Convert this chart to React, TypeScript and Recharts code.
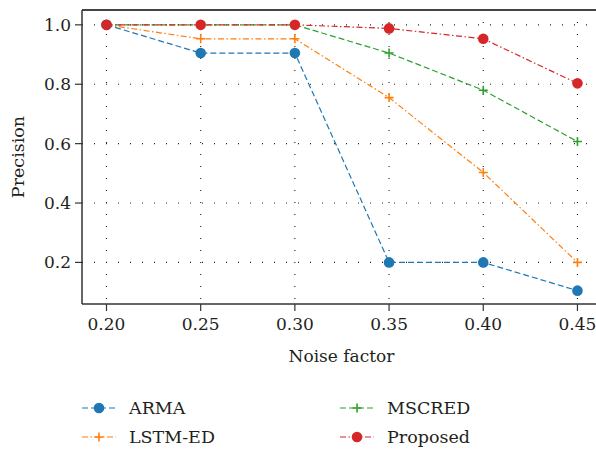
import React from 'react';
import { LineChart, Line, XAxis, YAxis, CartesianGrid, ReferenceLine } from 'recharts';

const noiseFactors = [0.2, 0.25, 0.3, 0.35, 0.4, 0.45];
const armaValues = [1.0, 0.905, 0.905, 0.2, 0.2, 0.105];
const lstmEdValues = [1.0, 0.953, 0.953, 0.755, 0.503, 0.2];
const mscredValues = [1.0, 1.0, 1.0, 0.905, 0.78, 0.607];
const proposedValues = [1.0, 1.0, 1.0, 0.988, 0.953, 0.803];
const xTicks = [0.2, 0.25, 0.3, 0.35, 0.4, 0.45];
const yTicks = [0.2, 0.4, 0.6, 0.8, 1.0];

const FONT = '"DejaVu Serif", serif';
const AXIS = '#333';
const TEXT = '#231f20';
const DASHED = '6 3';
const DASH_DOT = '6 2.5 1.5 2.5';

const series = [
  { key: 'arma', name: 'ARMA', values: armaValues, color: '#1f77b4', dash: DASHED, marker: 'circle' },
  { key: 'lstm', name: 'LSTM-ED', values: lstmEdValues, color: '#ff7f0e', dash: DASH_DOT, marker: 'plus' },
  { key: 'mscred', name: 'MSCRED', values: mscredValues, color: '#2ca02c', dash: DASHED, marker: 'plus' },
  { key: 'proposed', name: 'Proposed', values: proposedValues, color: '#d62728', dash: DASH_DOT, marker: 'circle' },
];

const data = noiseFactors.map((x, i) => {
  const row: any = { x };
  series.forEach((s) => { row[s.key] = s.values[i]; });
  return row;
});

const makeDot = (marker: string, color: string) => (props: any) => {
  const { cx, cy, index } = props;
  if (cx == null || cy == null) return null;
  if (marker === 'circle') {
    return <circle key={index} cx={cx} cy={cy} r={5.3} fill={color} stroke="none" />;
  }
  return (
    <path key={index} d={`M${cx - 4.5},${cy}H${cx + 4.5}M${cx},${cy - 4.5}V${cy + 4.5}`}
      stroke={color} strokeWidth={1.6} fill="none" />
  );
};

// legend placement
const legendSlots = [
  { left: 82, top: 408 },
  { left: 82, top: 437 },
  { left: 340, top: 408 },
  { left: 340, top: 437 },
];

const LegendHandle = ({ s }: any) => (
  <svg width={36} height={20} style={{ position: 'absolute', left: 0, top: -10, overflow: 'visible' }}>
    <line x1={0} y1={10} x2={34} y2={10} stroke={s.color} strokeWidth={1.2} strokeDasharray={s.dash} />
    {s.marker === 'circle'
      ? <circle cx={17} cy={10} r={5.3} fill={s.color} />
      : <path d="M12.5,10H21.5M17,5.5V14.5" stroke={s.color} strokeWidth={1.6} fill="none" />}
  </svg>
);

const App = () => {
  return (
    <div style={{ position: 'absolute', left: 0, top: 0, width: 596, height: 449, overflow: 'hidden', background: '#fff', fontFamily: FONT }}>
      <LineChart width={610} height={449} data={data} margin={{ top: 10, right: 9, left: 0, bottom: 85 }}
        style={{ fontFamily: FONT }}>
        <CartesianGrid stroke="#222" strokeWidth={1.1} strokeDasharray="1 11" horizontalValues={yTicks} verticalValues={xTicks} />
        <XAxis dataKey="x" type="number" domain={[0.187, 0.4625]} ticks={xTicks} allowDataOverflow
          tickFormatter={(v: number) => v.toFixed(2)} height={60}
          stroke={AXIS} axisLine={{ stroke: AXIS, strokeWidth: 1.5 }} tickLine={{ stroke: AXIS, strokeWidth: 1.2 }}
          tickSize={7} tickMargin={7}
          tick={{ fill: TEXT, fontSize: 17, fontFamily: FONT }}
          label={{ value: 'Noise factor', position: 'insideBottom', offset: 2, fill: TEXT, fontSize: 17, fontFamily: FONT }} />
        <YAxis type="number" domain={[0.06, 1.05]} ticks={yTicks} allowDataOverflow width={82}
          tickFormatter={(v: number) => v.toFixed(1)}
          stroke={AXIS} axisLine={{ stroke: AXIS, strokeWidth: 1.5 }} tickLine={{ stroke: AXIS, strokeWidth: 1.2 }}
          tickSize={7} tickMargin={4}
          tick={{ fill: TEXT, fontSize: 17, fontFamily: FONT }}
          label={{ value: 'Precision', angle: -90, position: 'insideLeft', offset: 18, fill: TEXT, fontSize: 17.5, fontFamily: FONT, style: { textAnchor: 'middle' } }} />
        <ReferenceLine y={1.05} stroke="#444" strokeWidth={2} />
        {series.map((s) => (
          <Line key={s.key} dataKey={s.key} name={s.name} type="linear" stroke={s.color} strokeWidth={1.2}
            strokeDasharray={s.dash} dot={makeDot(s.marker, s.color)} activeDot={false} isAnimationActive={false} />
        ))}
      </LineChart>
      {series.map((s, i) => (
        <div key={s.key} style={{ position: 'absolute', left: legendSlots[i].left, top: legendSlots[i].top, height: 0 }}>
          <LegendHandle s={s} />
          <span style={{ position: 'absolute', left: 47, top: -12, fontSize: 17.5, lineHeight: '24px', color: TEXT, whiteSpace: 'nowrap' }}>{s.name}</span>
        </div>
      ))}
    </div>
  );
};

export default App;
